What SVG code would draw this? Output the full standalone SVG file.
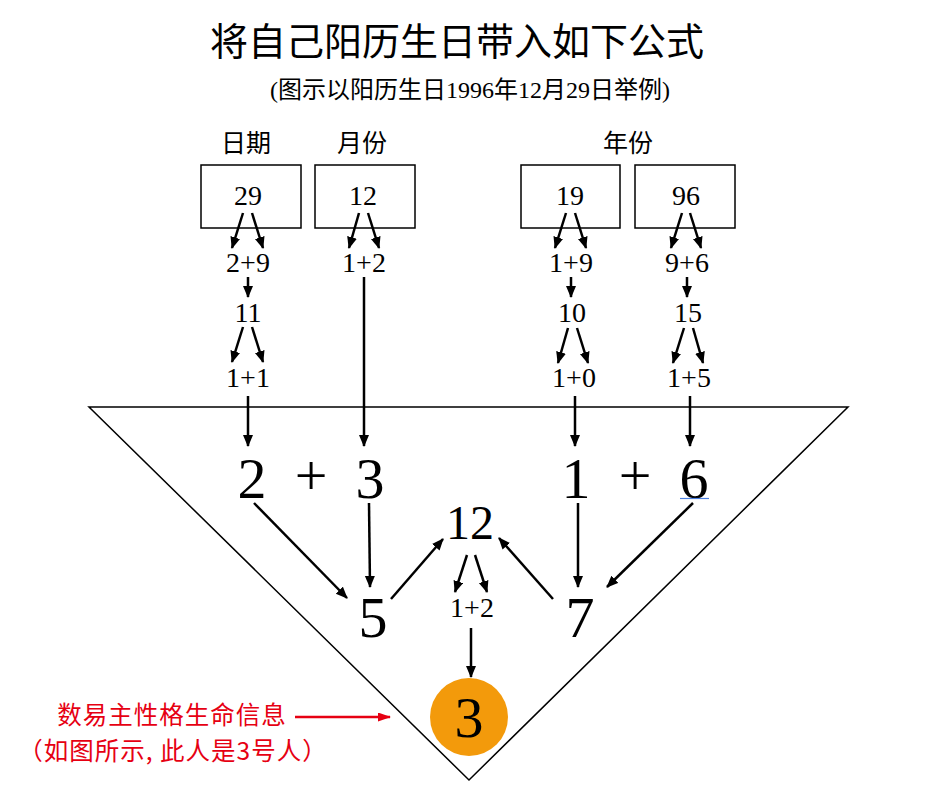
<svg xmlns="http://www.w3.org/2000/svg" width="932" height="806" viewBox="0 0 932 806">
<style>
.cjk{font-family:"Noto Sans CJK SC","Noto Sans CJK TC",sans-serif;fill:#000}
.num{font-family:"Liberation Serif","Noto Sans CJK SC",serif;fill:#000;text-anchor:middle}
.s28{font-size:28px}
.big{font-size:58px}
.box{fill:#fff;stroke:#000;stroke-width:1.5}
.arr{stroke:#000;stroke-width:2.5;fill:none;marker-end:url(#ah)}
.red{font-family:"Noto Sans CJK SC",sans-serif;fill:#e60012;font-size:24.5px;letter-spacing:1px;text-anchor:middle}
</style>
<defs>
<marker id="ah" markerUnits="userSpaceOnUse" markerWidth="13" markerHeight="11" refX="11" refY="5" orient="auto">
<path d="M0,0 L12,5 L0,10 z" fill="#000"/>
</marker>
<marker id="ahr" markerUnits="userSpaceOnUse" markerWidth="14" markerHeight="10" refX="12" refY="4.5" orient="auto">
<path d="M0,0 L13,4.5 L0,9 z" fill="#e60012"/>
</marker>
</defs>
<rect width="932" height="806" fill="#fff"/>

<g id="title">
<text class="cjk" x="457" y="55" font-size="38" text-anchor="middle">将自己阳历生日带入如下公式</text>
<text class="num" x="470" y="98" font-size="24">(图示以阳历生日1996年12月29日举例)</text>
</g>

<g id="labels">
<text class="cjk" x="246" y="152" font-size="25" text-anchor="middle">日期</text>
<text class="cjk" x="362" y="152" font-size="25" text-anchor="middle">月份</text>
<text class="cjk" x="628" y="152" font-size="25" text-anchor="middle">年份</text>
</g>

<g id="triangle">
<path d="M89,407 L848,407 L469,780 Z" fill="none" stroke="#000" stroke-width="1.5"/>
</g>

<g id="box-29"><rect class="box" x="201" y="165" width="100" height="63"/><text class="num s28" x="248" y="205">29</text></g>
<g id="box-12"><rect class="box" x="315" y="165" width="100" height="63"/><text class="num s28" x="363" y="205">12</text></g>
<g id="box-19"><rect class="box" x="521" y="165" width="99" height="63"/><text class="num s28" x="570" y="205">19</text></g>
<g id="box-96"><rect class="box" x="635" y="165" width="100" height="63"/><text class="num s28" x="686" y="205">96</text></g>

<g id="n-2p9"><text class="num s28" x="248" y="272">2+9</text></g>
<g id="n-11"><text class="num s28" x="248" y="322">11</text></g>
<g id="n-1p1"><text class="num s28" x="248" y="387">1+1</text></g>
<g id="n-1p2a"><text class="num s28" x="364" y="272">1+2</text></g>
<g id="n-1p9"><text class="num s28" x="571" y="272">1+9</text></g>
<g id="n-10"><text class="num s28" x="572" y="322">10</text></g>
<g id="n-1p0"><text class="num s28" x="574" y="387">1+0</text></g>
<g id="n-9p6"><text class="num s28" x="687" y="272">9+6</text></g>
<g id="n-15"><text class="num s28" x="688" y="322">15</text></g>
<g id="n-1p5"><text class="num s28" x="689" y="387">1+5</text></g>

<g id="n-2"><text class="num big" x="252" y="498">2</text></g>
<g id="plus1"><text class="num big" x="311" y="495">+</text></g>
<g id="n-3"><text class="num big" x="370" y="498">3</text></g>
<g id="n-1"><text class="num big" x="576" y="498">1</text></g>
<g id="plus2"><text class="num big" x="635" y="495">+</text></g>
<g id="n-6"><text class="num big" x="694" y="498">6</text><line x1="680" y1="498.5" x2="709" y2="498.5" stroke="#4a7fe0" stroke-width="1.2"/></g>
<g id="n-12"><text class="num" x="470" y="539" font-size="48">12</text></g>
<g id="n-5"><text class="num big" x="373" y="637">5</text></g>
<g id="n-7"><text class="num big" x="580" y="637">7</text></g>
<g id="n-1p2b"><text class="num s28" x="472" y="617">1+2</text></g>

<g id="result">
<circle cx="469" cy="717" r="39" fill="#f39a0b"/>
<text class="num big" x="469" y="737">3</text>
</g>

<g id="note">
<text class="red" x="172" y="724">数易主性格生命信息</text>
<text class="red" x="173" y="760">（如图所示, 此人是3号人）</text>
</g>

<g id="connectors">
<line class="arr" x1="243" y1="213" x2="232" y2="248"/>
<line class="arr" x1="252" y1="213" x2="263" y2="248"/>
<line class="arr" x1="248" y1="277" x2="248" y2="297"/>
<line class="arr" x1="243" y1="327" x2="232" y2="362"/>
<line class="arr" x1="252" y1="327" x2="263" y2="362"/>
<line class="arr" x1="248" y1="396" x2="248" y2="446"/>

<line class="arr" x1="359" y1="213" x2="349" y2="248"/>
<line class="arr" x1="368" y1="213" x2="379" y2="248"/>
<line class="arr" x1="364" y1="277" x2="364" y2="446"/>

<line class="arr" x1="566" y1="213" x2="555" y2="248"/>
<line class="arr" x1="575" y1="213" x2="586" y2="248"/>
<line class="arr" x1="571" y1="277" x2="571" y2="297"/>
<line class="arr" x1="568" y1="328" x2="558" y2="363"/>
<line class="arr" x1="577" y1="328" x2="588" y2="363"/>
<line class="arr" x1="575" y1="396" x2="575" y2="446"/>

<line class="arr" x1="682" y1="213" x2="671" y2="248"/>
<line class="arr" x1="690" y1="213" x2="701" y2="248"/>
<line class="arr" x1="687" y1="277" x2="687" y2="297"/>
<line class="arr" x1="684" y1="328" x2="673" y2="363"/>
<line class="arr" x1="693" y1="328" x2="703" y2="363"/>
<line class="arr" x1="690" y1="396" x2="690" y2="446"/>

<line class="arr" x1="254" y1="503" x2="347" y2="598"/>
<line class="arr" x1="369" y1="503" x2="370" y2="587"/>
<line class="arr" x1="391" y1="599" x2="443" y2="539"/>
<line class="arr" x1="553" y1="599" x2="499" y2="538"/>
<line class="arr" x1="578" y1="503" x2="578" y2="587"/>
<line class="arr" x1="693" y1="503" x2="607" y2="587"/>
<line class="arr" x1="467" y1="555" x2="455" y2="592"/>
<line class="arr" x1="475" y1="555" x2="487" y2="592"/>
<line class="arr" x1="471" y1="628" x2="471" y2="677"/>

<line x1="295" y1="717" x2="390" y2="717" stroke="#e60012" stroke-width="2.5" marker-end="url(#ahr)"/>
</g>
</svg>
